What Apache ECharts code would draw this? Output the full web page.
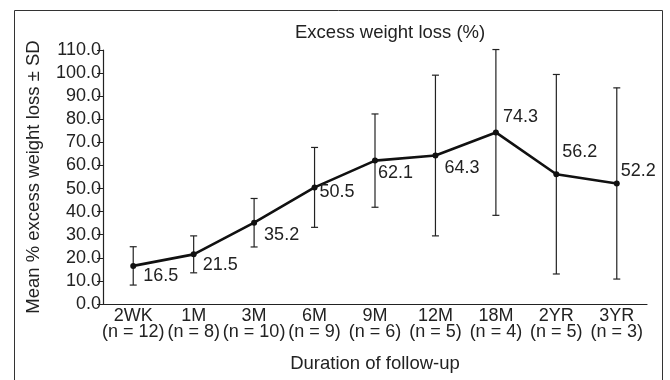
<!DOCTYPE html>
<html>
<head>
<meta charset="utf-8">
<style>
  html, body { margin: 0; padding: 0; background: #fff; }
  #chart { width: 670px; height: 380px; }
</style>
<script src="https://cdn.jsdelivr.net/npm/echarts@6/dist/echarts.min.js"></script>
</head>
<body>
<div id="chart"></div>
<script>
// follow-up points
const categories = ['2WK', '1M', '3M', '6M', '9M', '12M', '18M', '2YR', '3YR']
const counts = [12, 8, 10, 9, 6, 5, 4, 5, 3]
// mean % EWL and SD
const meanValues = [16.5, 21.5, 35.2, 50.5, 62.1, 64.3, 74.3, 56.2, 52.2]
const sdValues = [8.3, 8.0, 10.5, 17.3, 20.2, 34.8, 35.9, 43.2, 41.4]

// label nudges, [dx, dy] from the point
const labelOffsets = [[7, 10], [6, 11], [7, 12], [2, 5], [0, 12], [6, 13], [4, -15], [3, -22], [1, -12]]

const font = 'Liberation Sans, Arial, Helvetica, sans-serif'
const myChart = echarts.init(document.getElementById('chart'))

const errData = meanValues.map((m, i) => [i, m - sdValues[i], m + sdValues[i]])

const option = {
  animation: false,
  textStyle: { fontFamily: font, color: '#222' },
  title: {
    text: 'Excess weight loss (%)',
    left: 290,
    top: 18,
    textStyle: { fontSize: 18.5, fontWeight: 'normal', color: '#222', fontFamily: font }
  },
  graphic: [
    {
      type: 'rect',
      shape: { x: 14.5, y: 10.5, width: 648, height: 380 },
      style: { fill: null, stroke: '#333', lineWidth: 1 },
      silent: true
    }
  ],
  grid: { left: 103, right: 23, top: 50, bottom: 76, outerBoundsMode: 'none', containLabel: false },
  xAxis: {
    type: 'category',
    data: categories.map((c, i) => c + '\n(n = ' + counts[i] + ')'),
    boundaryGap: true,
    name: 'Duration of follow-up',
    nameLocation: 'middle',
    nameGap: 50,
    nameTextStyle: { fontSize: 18.5, color: '#222' },
    axisLine: { lineStyle: { color: '#222', width: 1.2 } },
    axisTick: { inside: true, length: 4, lineStyle: { color: '#222' } },
    axisLabel: { interval: 0, fontSize: 18, lineHeight: 16, margin: 4, color: '#222' },
    splitLine: { show: false }
  },
  yAxis: {
    type: 'value',
    min: 0,
    max: 110,
    interval: 10,
    name: 'Mean % excess weight loss \u00b1 SD',
    nameLocation: 'middle',
    nameGap: 60,
    nameTextStyle: { fontSize: 18.5, color: '#222' },
    axisLine: { show: true, lineStyle: { color: '#222', width: 1.2 } },
    axisTick: { show: true, length: 6, lineStyle: { color: '#222' } },
    axisLabel: { fontSize: 18, margin: 2, color: '#222', formatter: v => v.toFixed(1) },
    splitLine: { show: false }
  },
  series: [
    {
      type: 'custom',
      name: 'sd',
      data: errData,
      z: 1,
      renderItem: function (params, api) {
        const x = api.value(0)
        const lo = api.coord([x, api.value(1)])
        const hi = api.coord([x, api.value(2)])
        const cap = 3.5
        const style = { stroke: '#222', lineWidth: 1.2 }
        return {
          type: 'group',
          children: [
            { type: 'line', shape: { x1: hi[0], y1: hi[1], x2: lo[0], y2: lo[1] }, style },
            { type: 'line', shape: { x1: hi[0] - cap, y1: hi[1], x2: hi[0] + cap, y2: hi[1] }, style },
            { type: 'line', shape: { x1: lo[0] - cap, y1: lo[1], x2: lo[0] + cap, y2: lo[1] }, style }
          ]
        }
      }
    },
    {
      type: 'line',
      name: 'mean',
      z: 3,
      data: meanValues.map((v, i) => ({
        value: v,
        label: { offset: labelOffsets[i] }
      })),
      symbol: 'circle',
      symbolSize: 6,
      itemStyle: { color: '#111' },
      lineStyle: { color: '#111', width: 2.6 },
      label: {
        show: true,
        position: 'right',
        distance: 0,
        fontSize: 18,
        color: '#222',
        formatter: p => p.value.toFixed(1)
      }
    }
  ]
}

myChart.setOption(option)
</script>
</body>
</html>
